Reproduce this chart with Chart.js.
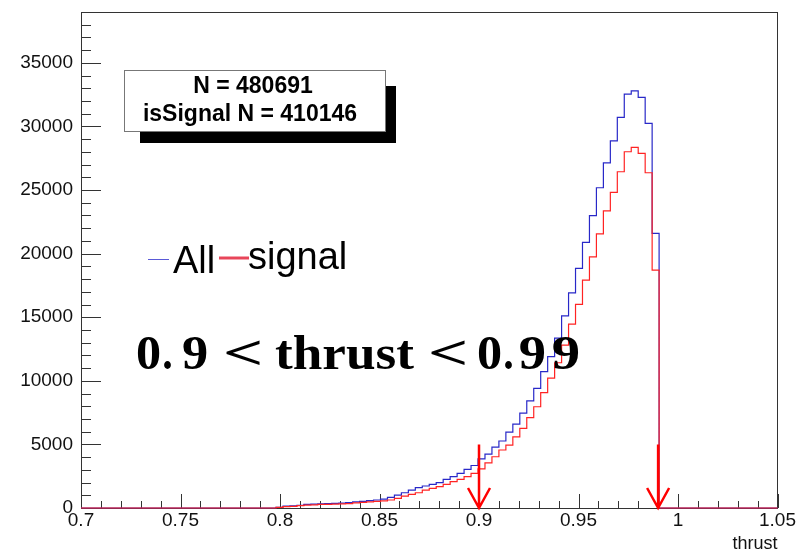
<!DOCTYPE html>
<html>
<head>
<meta charset="utf-8">
<script src="https://cdn.jsdelivr.net/npm/chart.js@4.4.1/dist/chart.umd.min.js"></script>
<style>
  body { margin: 0; background: #fff; }
  #wrap { width: 797px; height: 555px; position: relative; }
</style>
</head>
<body>
<div id="wrap"><canvas id="grafico"></canvas></div>
<script>
// thrust histogram: 100 bins between 0.7 and 1.05, bins below 28 and above 82 are empty
const xMin = 0.7;
const xMax = 1.05;
const nBins = 100;
const binWidth = (xMax - xMin) / nBins;
const firstFilledBin = 28;
const yMax = 39000;

const allCounts = [
    60, 157, 160, 210, 280, 300, 330, 340, 370, 380, 420, 480, 520, 580, 630, 690,
    840, 1020, 1200, 1410, 1600, 1730, 1860, 1990, 2250, 2460, 2720, 3040, 3340, 3870, 4240, 4790,
    5270, 5960, 6600, 7460, 8430, 9400, 10730, 11900, 13360, 15110, 16920, 18840,
    20890, 22990, 25180, 27140, 28870, 30710, 32540, 32800, 32280, 30240, 21590
];
const signalCounts = [
    50, 110, 120, 180, 230, 250, 280, 290, 310, 320, 350, 400, 440, 480, 520, 560,
    630, 760, 940, 1070, 1200, 1410, 1550, 1680, 1860, 2070, 2250, 2460, 2720, 3080, 3550, 4030,
    4560, 4950, 5600, 6260, 7100, 7960, 9070, 10210, 11420, 12810, 14460, 16010,
    17920, 19750, 21550, 23370, 24810, 26440, 28010, 28350, 27880, 26360, 18710
];

const xTicks = [0.7, 0.75, 0.8, 0.85, 0.9, 0.95, 1, 1.05];
const xTickLabels = ['0.7', '0.75', '0.8', '0.85', '0.9', '0.95', '1', '1.05'];
const yTicks = [0, 5000, 10000, 15000, 20000, 25000, 30000, 35000];
const yTickLabels = ['0', '5000', '10000', '15000', '20000', '25000', '30000', '35000'];

const statLines = ['N = 480691', 'isSignal N = 410146'];
const legendNames = ['All', 'signal'];
const cutValues = [0.9, 0.99];
const arrowTop = 5000;

const colorAll = 'rgb(40, 40, 200)';
const colorSignal = 'rgb(255, 35, 35)';

const histPoints = (counts) => {
    const pts = [];
    for (let k = 0; k < nBins; k++) {
        const i = k - firstFilledBin;
        const v = (i >= 0 && i < counts.length) ? counts[i] : 0;
        pts.push({ x: xMin + k * binWidth, y: v });
    }
    pts.push({ x: xMax, y: 0 });
    return pts;
};

// ROOT-like frame and inner ticks, under the histograms
const rootFrame = {
    id: 'rootFrame',
    beforeDatasetsDraw(chart) {
        const { ctx, chartArea: a, scales: { x, y } } = chart;
        ctx.save();
        ctx.strokeStyle = '#333';
        ctx.lineWidth = 1;
        ctx.beginPath();
        for (let i = 0; i <= 35; i++) {
            const px = Math.round(x.getPixelForValue(xMin + i * 0.01)) + 0.5;
            const len = i % 5 === 0 ? 14 : 7;
            ctx.moveTo(px, a.bottom);
            ctx.lineTo(px, a.bottom - len);
        }
        for (let i = 0; i <= 39; i++) {
            const py = Math.round(y.getPixelForValue(i * 1000)) + 0.5;
            const len = i % 5 === 0 ? 20 : 10;
            ctx.moveTo(a.left, py);
            ctx.lineTo(a.left + len, py);
        }
        ctx.stroke();
        ctx.strokeRect(Math.round(a.left) + 0.5, Math.round(a.top) + 0.5,
            Math.round(a.width) - 1, Math.round(a.height));
        ctx.restore();
    }
};

const drawToken = (ctx, text, left, width, baseline) => {
    const m = ctx.measureText(text);
    const ink = m.actualBoundingBoxLeft + m.actualBoundingBoxRight;
    const sx = width / ink;
    ctx.save();
    ctx.translate(left + m.actualBoundingBoxLeft * sx, baseline);
    ctx.scale(sx, 1);
    ctx.fillText(text, 0, 0);
    ctx.restore();
};

// stat box, legend, cut label and arrows on top
const rootDecor = {
    id: 'rootDecor',
    afterDraw(chart) {
        const { ctx, scales: { x, y } } = chart;
        ctx.save();

        // stat box with shadow
        ctx.fillStyle = '#000';
        ctx.fillRect(386, 86, 10, 57);
        ctx.fillRect(140, 132, 256, 11);
        ctx.fillStyle = '#fff';
        ctx.fillRect(124, 70, 262, 62);
        ctx.strokeStyle = '#777';
        ctx.lineWidth = 1;
        ctx.strokeRect(124.5, 70.5, 261, 61);
        ctx.fillStyle = '#000';
        ctx.font = 'bold 23px "Liberation Sans", Arial, sans-serif';
        ctx.textAlign = 'center';
        ctx.textBaseline = 'middle';
        ctx.fillText(statLines[0], 253, 87);
        ctx.fillText(statLines[1], 250, 115);

        // legend
        ctx.strokeStyle = 'rgb(90, 90, 215)';
        ctx.lineWidth = 1;
        ctx.beginPath();
        ctx.moveTo(148, 259.5);
        ctx.lineTo(169, 259.5);
        ctx.stroke();
        ctx.strokeStyle = 'rgb(232, 70, 90)';
        ctx.lineWidth = 3;
        ctx.beginPath();
        ctx.moveTo(219, 258);
        ctx.lineTo(249, 258);
        ctx.stroke();
        ctx.font = '38px "Liberation Sans", Arial, sans-serif';
        ctx.textAlign = 'left';
        ctx.textBaseline = 'alphabetic';
        ctx.fillText(legendNames[0], 173, 273);
        ctx.fillText(legendNames[1], 248, 268.5);

        // cut label
        ctx.font = 'bold 48px "Liberation Serif", "Times New Roman", serif';
        const tokens = [['0', 137, 23], ['.', 164, 7], ['9', 183, 24], ['<', 226, 34],
            ['thrust', 275, 139], ['<', 431, 34], ['0', 478, 23], ['.', 505, 7],
            ['9', 520, 25], ['9', 553, 26]];
        tokens.forEach(([t, l, w]) => drawToken(ctx, t, l, w, 369));

        // cut arrows
        ctx.strokeStyle = '#ff0000';
        ctx.lineWidth = 2.5;
        const y0 = y.getPixelForValue(0);
        const y1 = y.getPixelForValue(arrowTop);
        cutValues.forEach(c => {
            const px = x.getPixelForValue(c);
            ctx.beginPath();
            ctx.moveTo(px, y1);
            ctx.lineTo(px, y0);
            ctx.moveTo(px - 11, y0 - 20);
            ctx.lineTo(px, y0);
            ctx.lineTo(px + 11, y0 - 20);
            ctx.stroke();
        });
        ctx.restore();
    }
};

const ctxGrafico = document.getElementById('grafico').getContext('2d');
const graficoCanvas = new Chart(ctxGrafico, {
    type: 'line',
    data: {
        datasets: [
            {
                label: legendNames[0],
                data: histPoints(allCounts),
                borderColor: colorAll,
                borderWidth: 1.2,
                stepped: true,
                pointRadius: 0,
                fill: false,
                clip: 6,
                order: 1
            },
            {
                label: legendNames[1],
                data: histPoints(signalCounts),
                borderColor: colorSignal,
                borderWidth: 1.2,
                stepped: true,
                pointRadius: 0,
                fill: false,
                clip: 6,
                order: 0
            }
        ]
    },
    options: {
        responsive: true,
        maintainAspectRatio: false,
        animation: false,
        events: [],
        layout: { padding: { top: 12, right: 19, bottom: 0, left: 0 } },
        plugins: {
            legend: { display: false },
            tooltip: { enabled: false }
        },
        scales: {
            x: {
                type: 'linear',
                min: xMin,
                max: xMax,
                grid: { display: false, drawTicks: false },
                border: { display: false },
                afterBuildTicks: (s) => { s.ticks = xTicks.map(v => ({ value: v })); },
                afterFit: (s) => { s.height = 47; },
                ticks: {
                    autoSkip: false,
                    maxRotation: 0,
                    padding: 1,
                    color: '#111',
                    font: { family: '"Liberation Sans", Arial, sans-serif', size: 19 },
                    callback: (v, i) => xTickLabels[i]
                },
                title: {
                    display: true,
                    text: 'thrust',
                    align: 'end',
                    color: '#111',
                    padding: { top: 0, bottom: 0 },
                    font: { family: '"Liberation Sans", Arial, sans-serif', size: 18 }
                }
            },
            y: {
                type: 'linear',
                min: 0,
                max: yMax,
                grid: { display: false, drawTicks: false },
                border: { display: false },
                afterBuildTicks: (s) => { s.ticks = yTicks.map(v => ({ value: v })); },
                afterFit: (s) => { s.width = 81; s.paddingTop = 0; s.paddingBottom = 0; },
                ticks: {
                    padding: 8,
                    color: '#111',
                    font: { family: '"Liberation Sans", Arial, sans-serif', size: 19 },
                    callback: (v, i) => yTickLabels[i]
                }
            }
        }
    },
    plugins: [rootFrame, rootDecor]
});
</script>
</body>
</html>
